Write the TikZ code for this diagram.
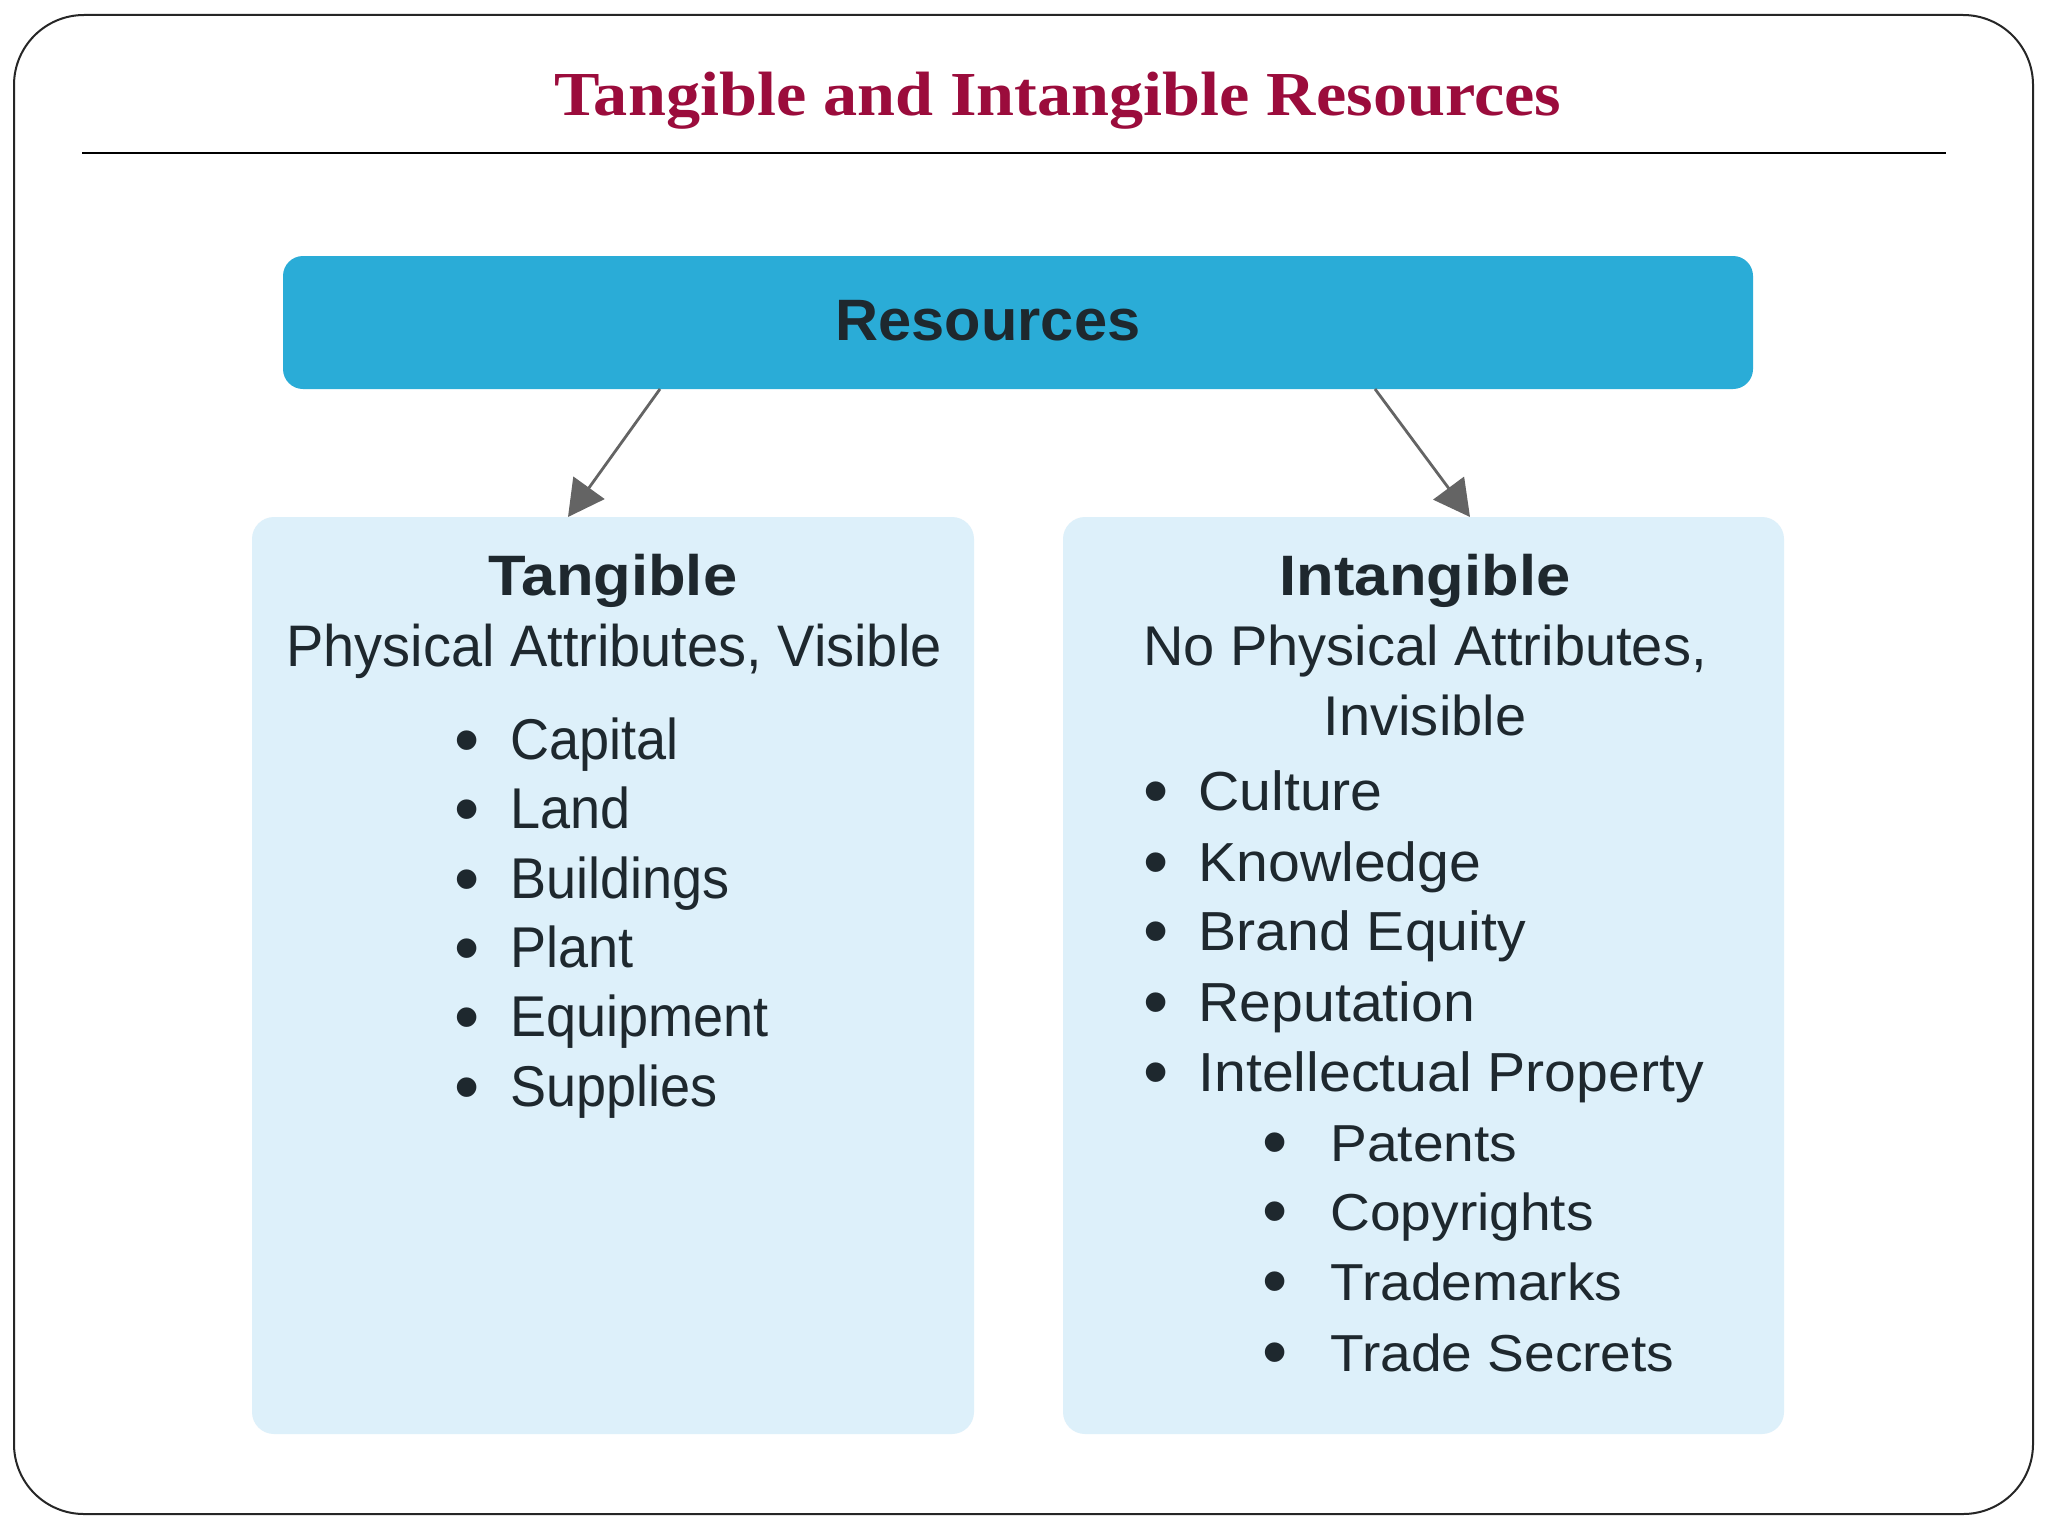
\documentclass[tikz,border=0pt]{standalone}
\usepackage{fontspec}
\setmainfont{Liberation Sans}
\newfontfamily\titlefont[FakeStretch=1.09]{Liberation Serif}
\newfontfamily\resfont[FakeStretch=1.02]{Liberation Sans}
\newfontfamily\headfont[FakeStretch=1.08]{Liberation Sans}
\newfontfamily\subLfont[FakeStretch=0.955]{Liberation Sans}
\newfontfamily\itemLfont[FakeStretch=0.94]{Liberation Sans}
\newfontfamily\subRfont[FakeStretch=1.0]{Liberation Sans}
\newfontfamily\itemRfont[FakeStretch=1.04]{Liberation Sans}
\newfontfamily\subitemfont[FakeStretch=1.06]{Liberation Sans}
\usetikzlibrary{arrows.meta}
\definecolor{titlered}{RGB}{155,12,60}
\definecolor{resblue}{RGB}{42,172,215}
\definecolor{panelblue}{RGB}{221,240,250}
\definecolor{inkc}{RGB}{30,40,46}
\definecolor{arrowgray}{RGB}{100,100,100}
\begin{document}
\begin{tikzpicture}[x=0.5pt,y=-0.5pt,
  txt/.style={inner sep=0pt,text=inkc,anchor=base},
  titlestyle/.style={inner sep=0pt,anchor=base,text=titlered,font=\titlefont\bfseries\fontsize{31.3pt}{33pt}\selectfont},
  resstyle/.style={txt,font=\resfont\bfseries\fontsize{29.2pt}{31pt}\selectfont},
  headstyle/.style={txt,font=\headfont\bfseries\fontsize{28.5pt}{30pt}\selectfont},
  subLstyle/.style={txt,font=\subLfont\fontsize{29.3pt}{31pt}\selectfont},
  subRstyle/.style={txt,font=\subRfont\fontsize{28pt}{30pt}\selectfont},
  itemLstyle/.style={txt,anchor=base west,font=\itemLfont\fontsize{28.75pt}{30pt}\selectfont},
  itemRstyle/.style={txt,anchor=base west,font=\itemRfont\fontsize{27.5pt}{29pt}\selectfont},
  subitemstyle/.style={txt,anchor=base west,font=\subitemfont\fontsize{26pt}{28pt}\selectfont},
  bulstyle/.style={txt,text height=15pt,text depth=0pt,yshift=-2.5pt,font=\fontsize{36pt}{38pt}\selectfont},
  panel/.style={draw=none,fill=panelblue,rounded corners=11pt,inner sep=0pt},
  resbox/.style={draw=none,fill=resblue,rounded corners=10pt,inner sep=0pt},
  conn/.style={draw=arrowgray,line width=1.4pt,-{Triangle[length=18pt,width=19pt]}}
]
\useasboundingbox (0,0) rectangle (2048,1536);
\fill[white] (0,0) rectangle (2048,1536);
% outer frame
\draw[line width=1pt,black!85,rounded corners=35pt] (14,15) rectangle (2033,1514);
% title
\node[titlestyle] (title) at (1058,116) {Tangible and Intangible Resources};
\coordinate (ruleL) at (82,153);
\coordinate (ruleR) at (1946,153);
\draw[line width=1.2pt,black] (ruleL) -- (ruleR);
% boxes
\node[resbox,minimum width=735pt,minimum height=66.5pt] (resbox) at (1018,322.5) {};
\node[resstyle] (restext) at (988,340) {Resources};
\node[panel,minimum width=361pt,minimum height=458.5pt] (tang) at (613,975.5) {};
\node[panel,minimum width=360.5pt,minimum height=458.5pt] (intang) at (1423.5,975.5) {};
% connectors
\coordinate (a1s) at (660,389);
\coordinate (a1e) at (568,517);
\coordinate (a2s) at (1375,389);
\coordinate (a2e) at (1470,517);
\draw[conn] (a1s) -- (a1e);
\draw[conn] (a2s) -- (a2e);
% left panel text
\node[headstyle] (th) at (613,595) {Tangible};
\node[subLstyle] (ts) at (614,666) {Physical Attributes, Visible};
\foreach \t/\y [count=\i] in {Capital/759,Land/828,Buildings/898,Plant/967,Equipment/1036,Supplies/1106} {
  \node[bulstyle] (bl\i) at (467,\y) {•};
  \node[itemLstyle] (il\i) at (510,\y) {\t};
}
% right panel text
\node[headstyle] (ih) at (1425,595) {Intangible};
\node[subRstyle] (is1) at (1425,665) {No Physical Attributes,};
\node[subRstyle] (is2) at (1425,735) {Invisible};
\foreach \t/\y [count=\i] in {Culture/810,Knowledge/881,Brand Equity/950,Reputation/1021,Intellectual Property/1091} {
  \node[bulstyle] (br\i) at (1156,\y) {•};
  \node[itemRstyle] (ir\i) at (1198,\y) {\t};
}
\foreach \t/\y [count=\i] in {Patents/1161,Copyrights/1230,Trademarks/1300,Trade Secrets/1371} {
  \node[bulstyle] (bs\i) at (1275,\y) {•};
  \node[subitemstyle] (is\i x) at (1330,\y) {\t};
}
\end{tikzpicture}
\end{document}
